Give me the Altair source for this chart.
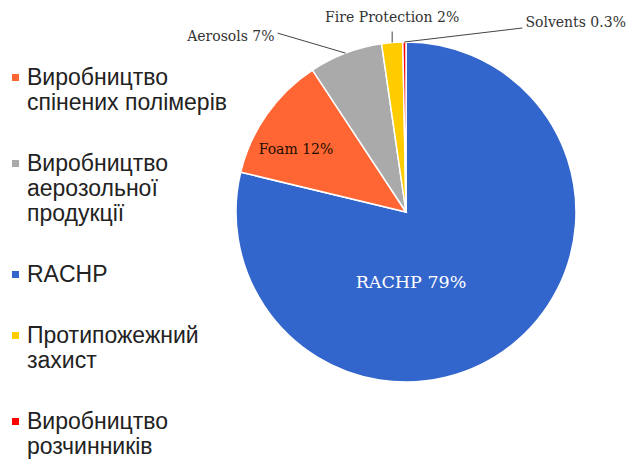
import math
import altair as alt
import pandas as pd

# ---- data ----
slice_names = ["RACHP", "Foam", "Aerosols", "Fire Protection", "Solvents"]
legend_names = [
    "RACHP",
    "Виробництво|спінених полімерів",
    "Виробництво|аерозольної|продукції",
    "Протипожежний|захист",
    "Виробництво|розчинників",
]
shares = [79, 12, 7, 2, 0.3]
share_labels = ["79%", "12%", "7%", "2%", "0.3%"]
slice_colors = ["#3366CC", "#FF6633", "#AAAAAA", "#FFCC00", "#FF0000"]
legend_order = [legend_names[1], legend_names[2], legend_names[0], legend_names[3], legend_names[4]]

# ---- layout / style constants ----
CX, CY, R = 406, 212, 170
# inside labels: offset from pie centre
INSIDE = {"RACHP": (5, 71), "Foam": (-110, -62)}
# outside labels: leader end offset from slice edge, text offset from leader end, align
OUTSIDE = {
    "Aerosols": ((-68, -20), (-3, 4), "right"),
    "Fire Protection": ((0, -11), (0, -14), "center"),
    "Solvents": ((118, -14), (3, -5), "left"),
}

df = pd.DataFrame({
    "name": slice_names,
    "legend": legend_names,
    "value": shares,
    "pct": share_labels,
    "pie_order": list(range(len(slice_names))),
})
df["label"] = df["name"] + " " + df["pct"]
total = df["value"].sum()
cum = df["value"].cumsum()
mid = (cum - df["value"] / 2) / total * 2 * math.pi
df["ex"] = CX + R * mid.apply(math.sin)
df["ey"] = CY - R * mid.apply(math.cos)

lx, ly, tx, ty, al = [], [], [], [], []
for _, r in df.iterrows():
    if r["name"] in OUTSIDE:
        (ox, oy), (dx, dy), a = OUTSIDE[r["name"]]
        lx.append(r["ex"] + ox); ly.append(r["ey"] + oy)
        tx.append(r["ex"] + ox + dx); ty.append(r["ey"] + oy + dy); al.append(a)
    else:
        ox, oy = INSIDE[r["name"]]
        lx.append(None); ly.append(None)
        tx.append(CX + ox); ty.append(CY + oy); al.append("inside")
df["lx"], df["ly"], df["tx"], df["ty"], df["align"] = lx, ly, tx, ty, al

color_scale = alt.Scale(
    domain=legend_order,
    range=[slice_colors[legend_names.index(n)] for n in legend_order],
)

base = alt.Chart(df)

pie = base.mark_arc(radius=R, x=CX, y=CY, stroke="white", strokeWidth=1.5).encode(
    theta=alt.Theta("value:Q", stack=True),
    color=alt.Color(
        "legend:N",
        scale=color_scale,
        legend=alt.Legend(
            title=None,
            orient="none",
            legendX=1,
            legendY=66,
            padding=0,
            symbolType="square",
            symbolSize=49,
            symbolStrokeWidth=0,
            symbolOffset=3,
            labelFont="Liberation Sans",
            labelFontSize=23,
            labelColor="#222222",
            labelLimit=400,
            labelOffset=0,
            rowPadding=37,
            labelExpr="split(datum.label, '|')",
        ),
    ),
    order=alt.Order("pie_order:Q"),
)

xpix = alt.X("tx:Q", scale=None, axis=None)
ypix = alt.Y("ty:Q", scale=None, axis=None)

leaders = base.transform_filter("datum.align != 'inside'").mark_rule(
    color="#444444", strokeWidth=1
).encode(
    x=alt.X("ex:Q", scale=None, axis=None),
    y=alt.Y("ey:Q", scale=None, axis=None),
    x2="lx:Q",
    y2="ly:Q",
)

def out_text(a):
    return base.transform_filter(f"datum.align == '{a}'").mark_text(
        align=a, baseline="middle", font="DejaVu Serif", fontSize=14, color="#333333"
    ).encode(x=xpix, y=ypix, text="label:N")

rachp_text = base.transform_filter("datum.name == 'RACHP'").mark_text(
    align="center", baseline="middle", font="DejaVu Serif", fontSize=17.5, color="white"
).encode(x=xpix, y=ypix, text="label:N")

foam_text = base.transform_filter("datum.name == 'Foam'").mark_text(
    align="center", baseline="middle", font="DejaVu Serif", fontSize=14, color="#1e0e00"
).encode(x=xpix, y=ypix, text="label:N")

chart = alt.layer(
    pie, leaders, out_text("right"), out_text("center"), out_text("left"), rachp_text, foam_text
).properties(
    width=630, height=461, padding=0, autosize=alt.AutoSizeParams(type="none")
).configure_view(stroke=None)

chart.save("out.html", embed_options={"renderer": "svg", "actions": False})
